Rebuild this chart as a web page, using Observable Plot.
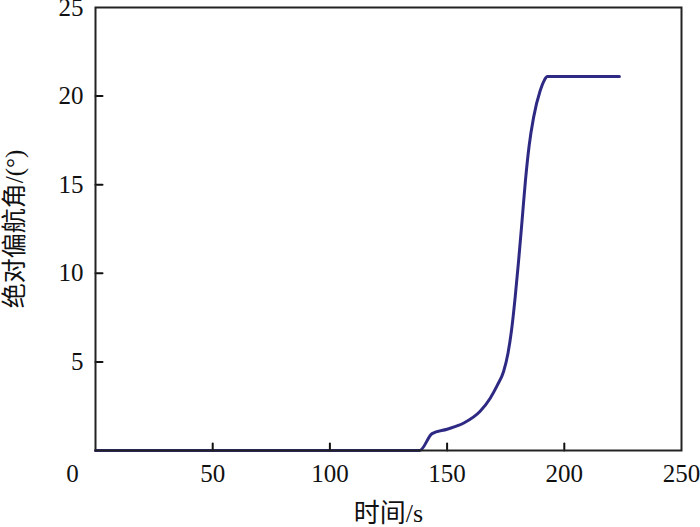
<!DOCTYPE html>
<html>
<head>
<meta charset="utf-8">
<script src="https://cdn.jsdelivr.net/npm/d3@7"></script>
<script src="https://cdn.jsdelivr.net/npm/@observablehq/plot@0.6"></script>
<style>
  html, body { margin: 0; padding: 0; background: #fff; }
  #chart svg { display: block; }
</style>
</head>
<body>
<div id="chart"></div>
<script>
// Time (s) and absolute yaw angle (degrees)
const timeS = [0, 20, 40, 60, 80, 100, 120, 138.3, 143.6, 150.0, 157.1, 164.0, 168.4, 171.5, 174.1, 176.0, 177.5, 179.0, 180.5, 182.0, 183.4, 185.0, 186.9, 189.7, 191.5, 192.8, 200, 210, 223.5];
const yawDeg = [0, 0, 0, 0, 0, 0, 0, 0, 0.95, 1.2, 1.55, 2.2, 2.95, 3.7, 4.46, 5.5, 6.8, 8.6, 10.7, 13.0, 15.2, 17.2, 18.8, 20.3, 20.9, 21.1, 21.1, 21.1, 21.1];
const xTicks = [50, 100, 150, 200, 250];
const yTicks = [5, 10, 15, 20, 25];
const xInnerTicks = [50, 100, 150, 200];
const yInnerTicks = [5, 10, 15, 20];
const originLabel = ["0"];
const xLabel = "时间/s";
const yLabel = "绝对偏航角/(°)";

const data = timeS.map((t, i) => ({t, v: yawDeg[i]}));
const font = "'Liberation Serif', 'Times New Roman', 'Noto Sans CJK SC', serif";

// a plain line segment shape for inward ticks
const tickShape = {draw(context, l) { context.moveTo(0, 0); context.lineTo(0, -l); }};

const chart = Plot.plot({
  width: 700,
  height: 527,
  marginLeft: 95,
  marginRight: 19,
  marginTop: 7,
  marginBottom: 77,
  style: {fontFamily: font, fontSize: "25px", color: "#111", background: "#fff"},
  x: {domain: [0, 250]},
  y: {domain: [0, 25]},
  marks: [
    Plot.axisX(xTicks, {tickSize: 0, tickPadding: 14, label: null, fontSize: 25}),
    Plot.axisY(yTicks, {tickSize: 0, tickPadding: 12, label: null, fontSize: 25}),
    Plot.text(originLabel, {x: d => 0, frameAnchor: "bottom", lineAnchor: "middle", dx: -23, dy: 23.5, text: d => d, fontSize: 25, fill: "#111"}),
    Plot.text([xLabel], {frameAnchor: "bottom", lineAnchor: "middle", dy: 63, text: d => d, fontSize: 26, fill: "#111"}),
    Plot.text([yLabel], {frameAnchor: "left", textAnchor: "middle", lineAnchor: "middle", dx: -81, rotate: -90, text: d => d, fontSize: 25, fill: "#111"}),
    Plot.line(data, {x: "t", y: "v", stroke: "#2e2a84", strokeWidth: 3, curve: "monotone-x"}),
    Plot.vector(xInnerTicks, {x: d => d, y: d => 0, length: 7, rotate: 0, anchor: "start", shape: tickShape, stroke: "#111", strokeWidth: 2}),
    Plot.vector(yInnerTicks, {x: d => 0, y: d => d, length: 7, rotate: 90, anchor: "start", shape: tickShape, stroke: "#111", strokeWidth: 2}),
    Plot.frame({stroke: "#222", strokeWidth: 2})
  ]
});
document.getElementById("chart").appendChild(chart);
</script>
</body>
</html>
